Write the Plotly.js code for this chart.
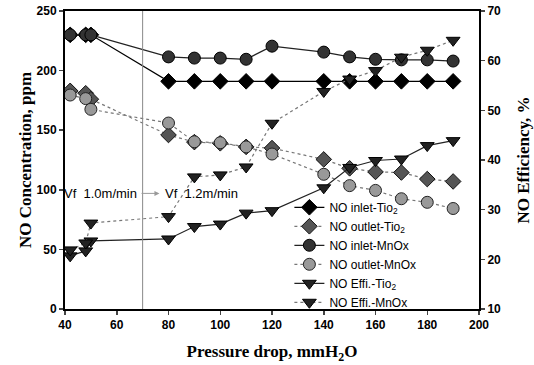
<!DOCTYPE html>
<html><head><meta charset="utf-8">
<script src="https://cdn.plot.ly/plotly-3.0.1.min.js"></script>
<style>html,body{margin:0;padding:0;background:#fff}#c{width:534px;height:365px}</style>
</head><body><div id="c"></div>
<script>
var xAll = [42, 48, 50, 80, 90, 100, 110, 120, 140, 150, 160, 170, 180, 190];
var inletTi = [230, 230, 230, 191, 191, 191, 191, 191, 191, 191, 191, 191, 191, 191];
var outletTi = [183, 181, 176, 146, 140, 139, 136, 135, 125.5, 118, 115, 114.5, 109, 107];
var inletMn = [230, 230, 230, 211.5, 210.5, 210.5, 209.5, 220.5, 215.5, 211.5, 209.5, 209, 209, 208];
var outletMn = [179.5, 176.5, 167.5, 156, 140.3, 139.5, 136, 130, 113, 103.5, 99.5, 92.5, 89.5, 84.3];
var effTi = [20.7, 21.7, 23.7, 24.1, 26.6, 27.1, 29.3, 29.8, 34.4, 38.5, 39.9, 40.2, 42.9, 43.9];
var effMn = [21.9, 23.3, 27.3, 28.6, 36.6, 37.0, 38.6, 47.4, 53.8, 56.3, 58.0, 60.7, 62.1, 64.1];
var names = ['NO inlet-Tio<sub>2</sub>', 'NO outlet-Tio<sub>2</sub>', 'NO inlet-MnOx', 'NO outlet-MnOx', 'NO Effi.-Tio<sub>2</sub>', 'NO Effi.-MnOx'];
var xTicks = [40, 60, 80, 100, 120, 140, 160, 180, 200];

var tickFont = {family: 'Liberation Sans, Arial, sans-serif', size: 12, color: '#000', weight: 'bold'};
var titleFont = {family: 'Liberation Serif, Times New Roman, serif', size: 17, color: '#000', weight: 'bold'};

var traces = [
  {x: xAll, y: inletTi, name: names[0], mode: 'lines+markers',
   line: {color: '#000', width: 1.2},
   marker: {symbol: 'diamond', size: 12, color: '#000', line: {color: '#000', width: 1}}},
  {x: xAll, y: outletTi, name: names[1], mode: 'lines+markers',
   line: {color: '#777', width: 1.2, dash: 'dot'},
   marker: {symbol: 'diamond', size: 12, color: '#555', line: {color: '#111', width: 1}}},
  {x: xAll, y: inletMn, name: names[2], mode: 'lines+markers',
   line: {color: '#222', width: 1.2},
   marker: {symbol: 'circle', size: 12, color: '#333', line: {color: '#000', width: 1}}},
  {x: xAll, y: outletMn, name: names[3], mode: 'lines+markers',
   line: {color: '#777', width: 1.2, dash: 'dot'},
   marker: {symbol: 'circle', size: 12, color: '#999', line: {color: '#222', width: 1}}},
  {x: xAll, y: effTi, name: names[4], mode: 'lines+markers', yaxis: 'y2',
   line: {color: '#222', width: 1.2},
   marker: {symbol: 'triangle-down', size: 12, color: '#222', line: {color: '#000', width: 1}}},
  {x: xAll, y: effMn, name: names[5], mode: 'lines+markers', yaxis: 'y2',
   line: {color: '#777', width: 1.2, dash: 'dot'},
   marker: {symbol: 'triangle-down', size: 12, color: '#222', line: {color: '#000', width: 1}}}
];

var layout = {
  width: 534, height: 365,
  margin: {l: 65, r: 55, t: 11, b: 56},
  paper_bgcolor: '#fff', plot_bgcolor: '#fff',
  showlegend: true,
  legend: {x: 0.542, y: 0.39, xanchor: 'left', yanchor: 'top', bgcolor: 'rgba(0,0,0,0)',
    font: {family: 'Liberation Sans, Arial, sans-serif', size: 12, color: '#000'},
    tracegroupgap: 0, itemwidth: 30},
  xaxis: {range: [40, 200], tickvals: xTicks, ticks: 'outside', ticklen: 4, tickwidth: 1.5,
    showline: true, linecolor: '#000', linewidth: 2, mirror: true, showgrid: false, zeroline: false,
    tickfont: tickFont,
    title: {text: 'Pressure drop, mmH<sub>2</sub>O', font: titleFont, standoff: 14}},
  yaxis: {range: [0, 250], dtick: 50, ticks: 'outside', ticklen: 4, tickwidth: 1.5,
    showline: true, linecolor: '#000', linewidth: 2, showgrid: false, zeroline: false,
    tickfont: tickFont,
    title: {text: 'NO Concentration, ppm', font: titleFont, standoff: 1}},
  yaxis2: {range: [10, 70], dtick: 10, overlaying: 'y', side: 'right', ticks: 'outside', ticklen: 4, tickwidth: 1.5,
    showline: true, linecolor: '#000', linewidth: 2, showgrid: false, zeroline: false,
    tickfont: tickFont,
    title: {text: 'NO Efficiency, %', font: titleFont, standoff: 17}},
  shapes: [{type: 'line', xref: 'x', yref: 'paper', x0: 70, x1: 70, y0: 0, y1: 1,
    line: {color: '#888', width: 1}}],
  annotations: [
    {x: 68.5, y: 97, xref: 'x', yref: 'y', text: 'Vf  1.0m/min', showarrow: false, xanchor: 'right',
     font: {family: 'Liberation Sans, Arial, sans-serif', size: 13, color: '#000'}},
    {x: 78, y: 97, xref: 'x', yref: 'y', text: 'Vf  1.2m/min', showarrow: false, xanchor: 'left',
     font: {family: 'Liberation Sans, Arial, sans-serif', size: 13, color: '#000'}},
    {x: 76.5, y: 97, ax: 69, ay: 97, xref: 'x', yref: 'y', axref: 'x', ayref: 'y', text: '',
     showarrow: true, arrowhead: 2, arrowsize: 1, arrowwidth: 1, arrowcolor: '#999'}
  ]
};
Plotly.newPlot('c', traces, layout, {displayModeBar: false, staticPlot: true});
</script></body></html>
